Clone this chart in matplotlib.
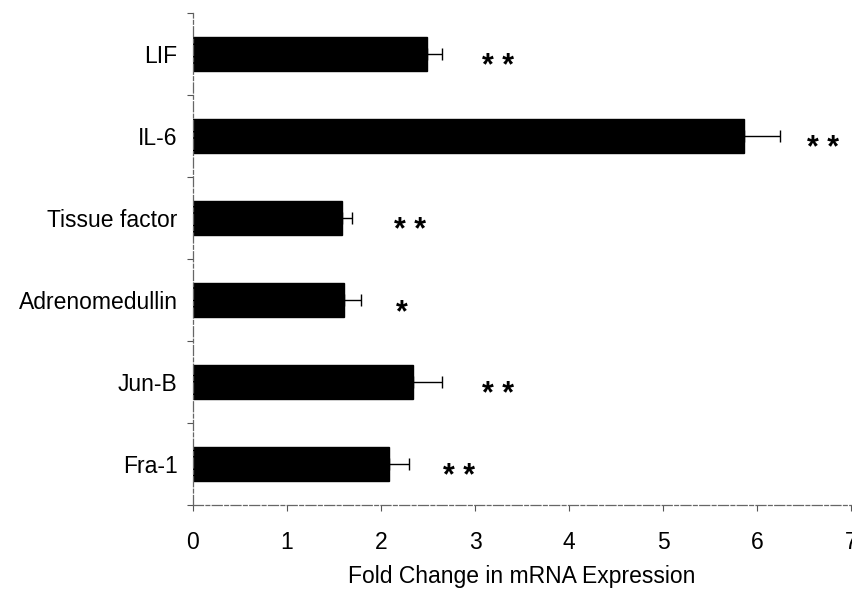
import matplotlib
matplotlib.use("Agg")
import matplotlib.pyplot as plt
import numpy as np

genes = ["LIF", "IL-6", "Tissue factor", "Adrenomedullin", "Jun-B", "Fra-1"]
fold_change = [2.49, 5.86, 1.59, 1.61, 2.34, 2.08]
sem = [0.16, 0.38, 0.10, 0.18, 0.31, 0.22]
stars = ["* *", "* *", "* *", "*", "* *", "* *"]
star_gap = [0.60, 0.46, 0.62, 0.43, 0.60, 0.53]
x_ticks = [0, 1, 2, 3, 4, 5, 6, 7]

plt.rcParams['font.family'] = ['Liberation Sans', 'DejaVu Sans']

fig = plt.figure(figsize=(8.53, 5.92), dpi=100)
ax = fig.add_axes([193/853, 1 - 505/592, (851 - 193)/853, (505 - 13)/592])

y = np.arange(len(genes))
ax.barh(y, fold_change, height=0.42, color='black', edgecolor='black',
        xerr=[np.zeros(len(sem)), sem], capsize=4,
        error_kw=dict(ecolor='black', elinewidth=1.0, capthick=1.0))

for yi, v, e, s, g in zip(y, fold_change, sem, stars, star_gap):
    ax.text(v + e + g, yi + 0.26, s, ha='center', va='baseline',
            fontsize=22, fontweight='bold', color='black')

ax.set_xlim(0, 7)
ax.set_ylim(len(genes) - 0.5, -0.5)
ax.set_xticks(x_ticks)
ax.set_xticklabels([str(t) for t in x_ticks], fontsize=16.5)
ax.set_yticks(y)
ax.set_yticklabels(genes, fontsize=16.5)
ax.tick_params(axis='y', which='major', length=0, pad=11)
ax.set_yticks(np.arange(-0.5, len(genes), 1.0), minor=True)
ax.tick_params(axis='y', which='minor', length=4, width=0.8, color='#555555', direction='out')
ax.tick_params(axis='x', which='major', length=4, width=0.8, color='#555555', pad=15, direction='out')

for side in ['top', 'right']:
    ax.spines[side].set_visible(False)
for side in ['left', 'bottom']:
    ax.spines[side].set_color('#666666')
    ax.spines[side].set_linewidth(0.9)
    ax.spines[side].set_linestyle((0, (8, 2, 3, 2)))

ax.set_xlabel("Fold Change in mRNA Expression", fontsize=16.5, labelpad=8)

fig.savefig("out.png", dpi=100)
